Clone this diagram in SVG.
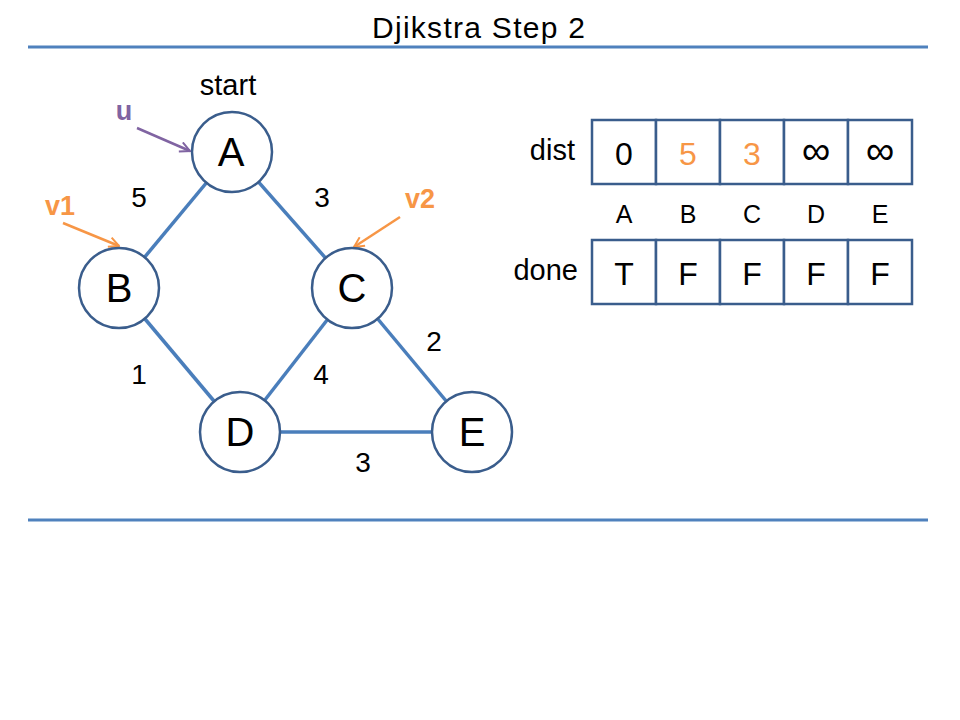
<svg xmlns="http://www.w3.org/2000/svg" width="960" height="720" viewBox="0 0 960 720">
<defs>
<style>
text{font-family:"Liberation Sans","Open Sans",sans-serif;fill:#000}
.rule{stroke:#4F81BD;stroke-width:3}
.edge{stroke:#4A7EBB;stroke-width:3.5}
.node circle{fill:#fff;stroke:#3A5D8C;stroke-width:2.5}
.node text{font-size:40px;text-anchor:middle}
.w{font-size:28px;text-anchor:middle}
.cell{fill:#fff;stroke:#3A5D8C;stroke-width:2.5}
.val{font-size:32px;text-anchor:middle}
.inf{font-size:40px;text-anchor:middle}
.hdr{font-size:25px;text-anchor:middle}
.lbl{font-size:29px;text-anchor:end}
.or{fill:#F79646}
.pu{fill:#8064A2}
.ptr{font-size:27px;font-weight:bold;text-anchor:middle}
</style>
<marker id="ap" viewBox="0 0 12 12" refX="11" refY="6" markerWidth="12" markerHeight="12" markerUnits="userSpaceOnUse" orient="auto"><polyline points="1,1 11,6 1,11" fill="none" stroke="#8064A2" stroke-width="2"/></marker>
<marker id="ao" viewBox="0 0 12 12" refX="11" refY="6" markerWidth="12" markerHeight="12" markerUnits="userSpaceOnUse" orient="auto"><polyline points="1,1 11,6 1,11" fill="none" stroke="#F79646" stroke-width="2"/></marker>
</defs>
<rect width="960" height="720" fill="#fff"/>
<text x="372" y="38" font-size="30" textLength="213" lengthAdjust="spacing">Djikstra Step 2</text>
<line class="rule" x1="28" y1="47" x2="928" y2="47"/>
<line class="rule" x1="28" y1="520" x2="928" y2="520"/>
<g id="connectors">
<line class="edge" x1="232" y1="152" x2="119" y2="288"/>
<line class="edge" x1="232" y1="152" x2="352" y2="288"/>
<line class="edge" x1="119" y1="288" x2="240" y2="432"/>
<line class="edge" x1="352" y1="288" x2="240" y2="432"/>
<line class="edge" x1="352" y1="288" x2="472" y2="432"/>
<line class="edge" x1="240" y1="432" x2="472" y2="432"/>
<line x1="137" y1="128" x2="190" y2="151" stroke="#8064A2" stroke-width="2.5" marker-end="url(#ap)"/>
<line x1="63" y1="223" x2="119" y2="246" stroke="#F79646" stroke-width="2.5" marker-end="url(#ao)"/>
<line x1="400" y1="217" x2="354" y2="247" stroke="#F79646" stroke-width="2.5" marker-end="url(#ao)"/>
</g>
<g id="edge-labels">
<text class="w" x="139" y="207">5</text>
<text class="w" x="322" y="207">3</text>
<text class="w" x="139" y="384">1</text>
<text class="w" x="321" y="384">4</text>
<text class="w" x="434" y="351">2</text>
<text class="w" x="363" y="472">3</text>
</g>
<text x="228" y="95" font-size="29" text-anchor="middle">start</text>
<text class="ptr pu" x="124" y="120">u</text>
<text class="ptr or" x="60" y="215">v1</text>
<text class="ptr or" x="420" y="208">v2</text>
<g id="node-A" class="node"><circle cx="232" cy="152" r="40"/><text x="231" y="166">A</text></g>
<g id="node-B" class="node"><circle cx="119" cy="288" r="40"/><text x="119" y="302">B</text></g>
<g id="node-C" class="node"><circle cx="352" cy="288" r="40"/><text x="352" y="302">C</text></g>
<g id="node-D" class="node"><circle cx="240" cy="432" r="40"/><text x="240" y="446">D</text></g>
<g id="node-E" class="node"><circle cx="472" cy="432" r="40"/><text x="472" y="446">E</text></g>
<g id="table">
<text class="lbl" x="575" y="160">dist</text>
<text class="lbl" x="578" y="280">done</text>
<rect class="cell" x="592" y="120" width="64" height="64"/>
<rect class="cell" x="656" y="120" width="64" height="64"/>
<rect class="cell" x="720" y="120" width="64" height="64"/>
<rect class="cell" x="784" y="120" width="64" height="64"/>
<rect class="cell" x="848" y="120" width="64" height="64"/>
<text class="val" x="624" y="165">0</text>
<text class="val or" x="688" y="165">5</text>
<text class="val or" x="752" y="165">3</text>
<text class="inf" x="816" y="164">∞</text>
<text class="inf" x="880" y="164">∞</text>
<text class="hdr" x="624" y="223">A</text>
<text class="hdr" x="688" y="223">B</text>
<text class="hdr" x="752" y="223">C</text>
<text class="hdr" x="816" y="223">D</text>
<text class="hdr" x="880" y="223">E</text>
<rect class="cell" x="592" y="240" width="64" height="64"/>
<rect class="cell" x="656" y="240" width="64" height="64"/>
<rect class="cell" x="720" y="240" width="64" height="64"/>
<rect class="cell" x="784" y="240" width="64" height="64"/>
<rect class="cell" x="848" y="240" width="64" height="64"/>
<text class="val" x="624" y="285">T</text>
<text class="val" x="688" y="285">F</text>
<text class="val" x="752" y="285">F</text>
<text class="val" x="816" y="285">F</text>
<text class="val" x="880" y="285">F</text>
</g>
</svg>
